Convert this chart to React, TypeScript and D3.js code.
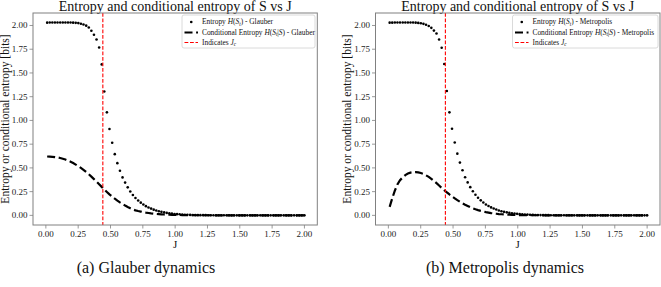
import React from 'react';
import * as d3 from 'd3';

// coupling values J (100 samples from 0.01 to 2.00)
const J = [
  0.010, 0.030, 0.050, 0.070, 0.090, 0.111, 0.131, 0.151, 0.171, 0.191,
  0.211, 0.231, 0.251, 0.271, 0.291, 0.312, 0.332, 0.352, 0.372, 0.392,
  0.412, 0.432, 0.452, 0.472, 0.492, 0.513, 0.533, 0.553, 0.573, 0.593,
  0.613, 0.633, 0.653, 0.673, 0.693, 0.714, 0.734, 0.754, 0.774, 0.794,
  0.814, 0.834, 0.854, 0.874, 0.894, 0.915, 0.935, 0.955, 0.975, 0.995,
  1.015, 1.035, 1.055, 1.075, 1.095, 1.116, 1.136, 1.156, 1.176, 1.196,
  1.216, 1.236, 1.256, 1.276, 1.296, 1.317, 1.337, 1.357, 1.377, 1.397,
  1.417, 1.437, 1.457, 1.477, 1.497, 1.518, 1.538, 1.558, 1.578, 1.598,
  1.618, 1.638, 1.658, 1.678, 1.698, 1.719, 1.739, 1.759, 1.779, 1.799,
  1.819, 1.839, 1.859, 1.879, 1.899, 1.920, 1.940, 1.960, 1.980, 2.000,
];

const entropyGlauber = [
  2.030, 2.031, 2.031, 2.031, 2.032, 2.032, 2.032, 2.032, 2.032, 2.031,
  2.030, 2.028, 2.025, 2.019, 2.010, 1.998, 1.978, 1.945, 1.903, 1.852,
  1.768, 1.590, 1.305, 1.085, 0.910, 0.765, 0.645, 0.550, 0.470, 0.400,
  0.345, 0.295, 0.252, 0.215, 0.183, 0.157, 0.134, 0.114, 0.097, 0.083,
  0.071, 0.060, 0.051, 0.043, 0.037, 0.031, 0.026, 0.022, 0.018, 0.015,
  0.013, 0.011, 0.009, 0.007, 0.006, 0.005, 0.004, 0.003, 0.003, 0.002,
  0.002, 0.002, 0.001, 0.001, 0.001, 0.001, 0.001, 0.001, 0.001, 0.001,
  0.001, 0, 0, 0, 0, 0, 0, 0, 0, 0,
  0, 0, 0, 0, 0, 0, 0, 0, 0, 0,
  0, 0, 0, 0, 0, 0, 0, 0, 0, 0,
];

const condGlauber = [
  0.620, 0.619, 0.617, 0.614, 0.610, 0.604, 0.597, 0.588, 0.577, 0.565,
  0.551, 0.535, 0.518, 0.500, 0.480, 0.457, 0.433, 0.408, 0.382, 0.355,
  0.327, 0.300, 0.272, 0.246, 0.221, 0.197, 0.175, 0.155, 0.137, 0.120,
  0.103, 0.088, 0.075, 0.062, 0.053, 0.046, 0.040, 0.034, 0.029, 0.025,
  0.021, 0.018, 0.015, 0.013, 0.011, 0.009, 0.008, 0.007, 0.006, 0.005,
  0.004, 0.004, 0.003, 0.003, 0.002, 0.002, 0.002, 0.001, 0.001, 0.001,
  0.001, 0.001, 0.001, 0.001, 0, 0, 0, 0, 0, 0,
  0, 0, 0, 0, 0, 0, 0, 0, 0, 0,
  0, 0, 0, 0, 0, 0, 0, 0, 0, 0,
  0, 0, 0, 0, 0, 0, 0, 0, 0, 0,
];

const entropyMetropolis = [
  2.030, 2.030, 2.031, 2.031, 2.031, 2.032, 2.032, 2.032, 2.031, 2.031,
  2.030, 2.027, 2.023, 2.017, 2.008, 1.995, 1.975, 1.946, 1.915, 1.852,
  1.765, 1.595, 1.310, 1.085, 0.912, 0.768, 0.650, 0.556, 0.475, 0.402,
  0.347, 0.297, 0.254, 0.217, 0.185, 0.158, 0.135, 0.115, 0.098, 0.084,
  0.072, 0.061, 0.052, 0.044, 0.037, 0.032, 0.027, 0.022, 0.019, 0.016,
  0.013, 0.011, 0.009, 0.008, 0.006, 0.005, 0.004, 0.004, 0.003, 0.002,
  0.002, 0.002, 0.001, 0.001, 0.001, 0.001, 0.001, 0.001, 0.001, 0.001,
  0.001, 0, 0, 0, 0, 0, 0, 0, 0, 0,
  0, 0, 0, 0, 0, 0, 0, 0, 0, 0,
  0, 0, 0, 0, 0, 0, 0, 0, 0, 0,
];

const condMetropolis = [
  0.090, 0.180, 0.260, 0.325, 0.370, 0.400, 0.424, 0.440, 0.450, 0.455,
  0.456, 0.453, 0.446, 0.436, 0.422, 0.405, 0.385, 0.363, 0.339, 0.314,
  0.289, 0.265, 0.242, 0.220, 0.199, 0.179, 0.160, 0.143, 0.127, 0.112,
  0.099, 0.086, 0.074, 0.064, 0.055, 0.047, 0.040, 0.034, 0.029, 0.024,
  0.020, 0.017, 0.014, 0.012, 0.010, 0.008, 0.007, 0.006, 0.005, 0.004,
  0.003, 0.003, 0.002, 0.002, 0.002, 0.001, 0.001, 0.001, 0.001, 0.001,
  0, 0, 0, 0, 0, 0, 0, 0, 0, 0,
  0, 0, 0, 0, 0, 0, 0, 0, 0, 0,
  0, 0, 0, 0, 0, 0, 0, 0, 0, 0,
  0, 0, 0, 0, 0, 0, 0, 0, 0, 0,
];

const xTicks = [0, 0.25, 0.5, 0.75, 1.0, 1.25, 1.5, 1.75, 2.0];
const yTicks = [0, 0.25, 0.5, 0.75, 1.0, 1.25, 1.5, 1.75, 2.0];
const J_C = 0.4407;

const TITLE = 'Entropy and conditional entropy of S vs J';
const Y_LABEL = 'Entropy or conditional entropy [bits]';

const FONT = '"Liberation Serif", "DejaVu Serif", serif';
const SPINE = '#808080';

interface PanelProps {
  x0: number;
  x1: number;
  entropy: number[];
  cond: number[];
  name: string;
  legendX0: number;
  legendX1: number;
  caption: string;
  captionX: number;
}

const Panel: React.FC<PanelProps> = ({ x0, x1, entropy, cond, name, legendX0, legendX1, caption, captionX }) => {
  const top = 13;
  const bottom = 225;
  const x = d3.scaleLinear().domain([-0.0995, 2.0995]).range([x0, x1]);
  const y = d3.scaleLinear().domain([-0.1015, 2.1315]).range([bottom, top]);

  const line = d3.line<number>()
    .x((_, i) => x(J[i]))
    .y((d) => y(d));

  const cx = (x0 + x1) / 2;
  const cy = (top + bottom) / 2;
  const fmt = d3.format('.2f');

  const rows = [22, 32.5, 42.5];
  const hx0 = legendX0 + 2.5;
  const hx1 = legendX0 + 16;
  const tx = legendX0 + 20;
  const lf = 7.4;

  return (
    <g>
      {/* title */}
      <text x={cx} y={10.5} textAnchor="middle" fontFamily={FONT} fontSize={14} fill="#111">
        {TITLE}
      </text>

      {/* entropy scatter */}
      {entropy.map((v, i) => (
        <circle key={`e${i}`} cx={x(J[i])} cy={y(v)} r={1.3} fill="#000" />
      ))}

      {/* conditional entropy dashed line */}
      <path d={line(cond) || ''} fill="none" stroke="#000" strokeWidth={2.2} strokeDasharray="8,3.6" />

      {/* critical coupling */}
      <line x1={x(J_C)} x2={x(J_C)} y1={top} y2={bottom} stroke="#ff0000" strokeWidth={1.1} strokeDasharray="3.8,1.7" />

      {/* frame */}
      <rect x={x0} y={top} width={x1 - x0} height={bottom - top} fill="none" stroke={SPINE} strokeWidth={1} />

      {/* x ticks */}
      {xTicks.map((t) => (
        <g key={`x${t}`}>
          <line x1={x(t)} x2={x(t)} y1={bottom} y2={bottom + 3.5} stroke={SPINE} strokeWidth={0.8} />
          <text x={x(t)} y={236.5} textAnchor="middle" fontFamily={FONT} fontSize={9} fill="#222">
            {fmt(t)}
          </text>
        </g>
      ))}
      <text x={cx} y={247.5} textAnchor="middle" fontFamily={FONT} fontSize={11} fill="#111">J</text>

      {/* y ticks */}
      {yTicks.map((t) => (
        <g key={`y${t}`}>
          <line x1={x0 - 3.5} x2={x0} y1={y(t)} y2={y(t)} stroke={SPINE} strokeWidth={0.8} />
          <text x={x0 - 5.5} y={y(t)} dy="0.33em" textAnchor="end" fontFamily={FONT} fontSize={9} fill="#222">
            {fmt(t)}
          </text>
        </g>
      ))}
      <text
        transform={`translate(${x0 - 28.3},${cy}) rotate(-90)`}
        dy="0.35em"
        textAnchor="middle"
        fontFamily={FONT}
        fontSize={11.5}
        fill="#111"
      >
        {Y_LABEL}
      </text>

      {/* legend */}
      <rect x={legendX0} y={15} width={legendX1 - legendX0} height={33} rx={2} fill="#fff" fillOpacity={0.85} stroke="#d0d0d0" strokeWidth={0.8} />
      <circle cx={(hx0 + hx1) / 2} cy={rows[0]} r={1.3} fill="#000" />
      <line x1={hx0} x2={hx1} y1={rows[1]} y2={rows[1]} stroke="#000" strokeWidth={2.2} strokeDasharray="8,3.6" />
      <line x1={hx0} x2={hx1} y1={rows[2]} y2={rows[2]} stroke="#ff0000" strokeWidth={1.1} strokeDasharray="3.8,1.7" />
      <text x={tx} y={rows[0]} dy="0.33em" fontFamily={FONT} fontSize={lf} fill="#111">
        Entropy <tspan fontStyle="italic">H</tspan>(<tspan fontStyle="italic">S</tspan>
        <tspan fontStyle="italic" fontSize={lf * 0.7} dy="1.2">t</tspan>
        <tspan dy="-1.2">)</tspan> - {name}
      </text>
      <text x={tx} y={rows[1]} dy="0.33em" fontFamily={FONT} fontSize={lf} fill="#111">
        Conditional Entropy <tspan fontStyle="italic">H</tspan>(<tspan fontStyle="italic">S</tspan>
        <tspan fontStyle="italic" fontSize={lf * 0.7} dy="1.2">t</tspan>
        <tspan dy="-1.2">|</tspan><tspan fontStyle="italic">S</tspan>) - {name}
      </text>
      <text x={tx} y={rows[2]} dy="0.33em" fontFamily={FONT} fontSize={lf} fill="#111">
        Indicates <tspan fontStyle="italic">J</tspan>
        <tspan fontStyle="italic" fontSize={lf * 0.7} dy="1.2">c</tspan>
      </text>

      {/* caption */}
      <text x={captionX} y={273} textAnchor="middle" fontFamily={FONT} fontSize={16} fill="#111">
        {caption}
      </text>
    </g>
  );
};

const App: React.FC = () => {
  return (
    <svg
      width={661}
      height={287}
      style={{ position: 'absolute', left: 0, top: 0, background: '#fff' }}
    >
      <rect width={661} height={287} fill="#fff" />
      <Panel
        x0={33}
        x1={317.3}
        entropy={entropyGlauber}
        cond={condGlauber}
        name="Glauber"
        legendX0={182}
        legendX1={315}
        caption="(a) Glauber dynamics"
        captionX={146}
      />
      <Panel
        x0={375.5}
        x1={660}
        entropy={entropyMetropolis}
        cond={condMetropolis}
        name="Metropolis"
        legendX0={512.5}
        legendX1={658}
        caption="(b) Metropolis dynamics"
        captionX={505}
      />
    </svg>
  );
};

export default App;
